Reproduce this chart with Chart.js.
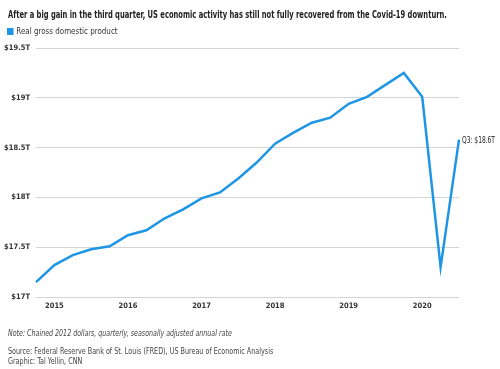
<!DOCTYPE html>
<html><head><meta charset="utf-8">
<script src="https://cdn.jsdelivr.net/npm/chart.js@4"></script>
<style>
html,body{margin:0;padding:0;background:#fff;width:500px;height:369px;overflow:hidden;font-family:"DejaVu Sans Condensed","Liberation Sans",sans-serif;}
#wrap{position:absolute;left:0;top:0;width:500px;height:369px;}
canvas{position:absolute;left:0;top:0;}
.t{position:absolute;white-space:nowrap;transform-origin:0 0;}
#title{left:8px;top:8px;font-size:11px;font-weight:bold;color:#222;}
#legend{left:7px;top:26px;font-size:8.5px;color:#333;}
#legend span.sw{display:inline-block;width:7px;height:7px;background:#1e96e6;margin-right:3px;vertical-align:-1px;}
#note{left:8px;top:329px;font-size:8px;font-style:italic;color:#444;}
#src{left:8px;top:347px;font-size:8px;color:#444;line-height:10px;}
</style></head>
<body><div id="wrap">
<canvas id="c" width="500" height="369"></canvas>
<div class="t" id="title">After a big gain in the third quarter, US economic activity has still not fully recovered from the Covid-19 downturn.</div>
<div class="t" id="legend"><span class="sw"></span>Real gross domestic product</div>
<div class="t" id="note">Note: Chained 2012 dollars, quarterly, seasonally adjusted annual rate</div>
<div class="t" id="src">Source: Federal Reserve Bank of St. Louis (FRED), US Bureau of Economic Analysis<br>Graphic: Tal Yellin, CNN</div>
</div>
<script>
const quarters = ["2014 Q4",
 "2015 Q1","2015 Q2","2015 Q3","2015 Q4",
 "2016 Q1","2016 Q2","2016 Q3","2016 Q4",
 "2017 Q1","2017 Q2","2017 Q3","2017 Q4",
 "2018 Q1","2018 Q2","2018 Q3","2018 Q4",
 "2019 Q1","2019 Q2","2019 Q3","2019 Q4",
 "2020 Q1","2020 Q2","2020 Q3"];
const gdpTrillions = [17.15,
 17.32,17.42,17.48,17.51,
 17.62,17.67,17.79,17.88,
 17.99,18.05,18.19,18.35,
 18.54,18.65,18.75,18.80,
 18.94,19.01,19.13,19.25,
 19.01,17.30,18.58];
const yTicks = [17,17.5,18,18.5,19,19.5];
const lastLabel = "Q3: $18.6T";

function fitW(id, w){ const el=document.getElementById(id); const s=w/el.scrollWidth; el.style.transform='scaleX('+s+')'; }
fitW('title',439); fitW('note',224); fitW('src',265); fitW('legend',111);

const FAM = '"DejaVu Sans Condensed","Liberation Sans",sans-serif';
const fmtY = v => "$" + (Math.round(v*10)/10) + "T";

const endLabel = {
  id:'endLabel',
  afterDatasetsDraw(chart){
    const meta = chart.getDatasetMeta(0);
    const p = meta.data[meta.data.length-1];
    const ctx = chart.ctx;
    ctx.save();
    ctx.font = '9px ' + FAM;
    ctx.fillStyle = '#222';
    ctx.textBaseline = 'middle';
    ctx.textAlign = 'left';
    const w = ctx.measureText(lastLabel).width;
    ctx.translate(p.x + 3, p.y + 1);
    ctx.scale(33 / w, 1);
    ctx.fillText(lastLabel, 0, 0);
    ctx.restore();
  }
};

new Chart(document.getElementById('c'), {
  type:'line',
  data:{labels:quarters, datasets:[{
    data:gdpTrillions, borderColor:'#1e96e6', borderWidth:2.5,
    pointRadius:0, tension:0, fill:false, borderJoinStyle:'miter'
  }]},
  options:{
    responsive:false, animation:false,
    layout:{padding:{top:48,right:41,bottom:0,left:0}},
    plugins:{legend:{display:false},tooltip:{enabled:false}},
    scales:{
      x:{
        type:'category', offset:false,
        grid:{display:false, drawTicks:false},
        border:{display:false},
        ticks:{
          autoSkip:false, maxRotation:0, padding:5,
          color:'#333',
          font:{family:FAM, size:7.5, weight:'bold'},
          callback:function(v,i){ const l=quarters[i]; return l.endsWith('Q1') ? l.slice(0,4) : ''; }
        },
        afterFit(s){ s.height = 72; }
      },
      y:{
        min:17, max:19.5,
        afterBuildTicks(s){ s.ticks = yTicks.map(v=>({value:v})); },
        grid:{color:'#d4d4d4', lineWidth:1, drawTicks:false},
        border:{display:false},
        ticks:{
          padding:6, color:'#333',
          font:{family:FAM, size:7.5, weight:'bold'},
          callback:v=>fmtY(v)
        },
        afterFit(s){ s.width = 36; }
      }
    }
  },
  plugins:[endLabel]
});
</script>
</body></html>
